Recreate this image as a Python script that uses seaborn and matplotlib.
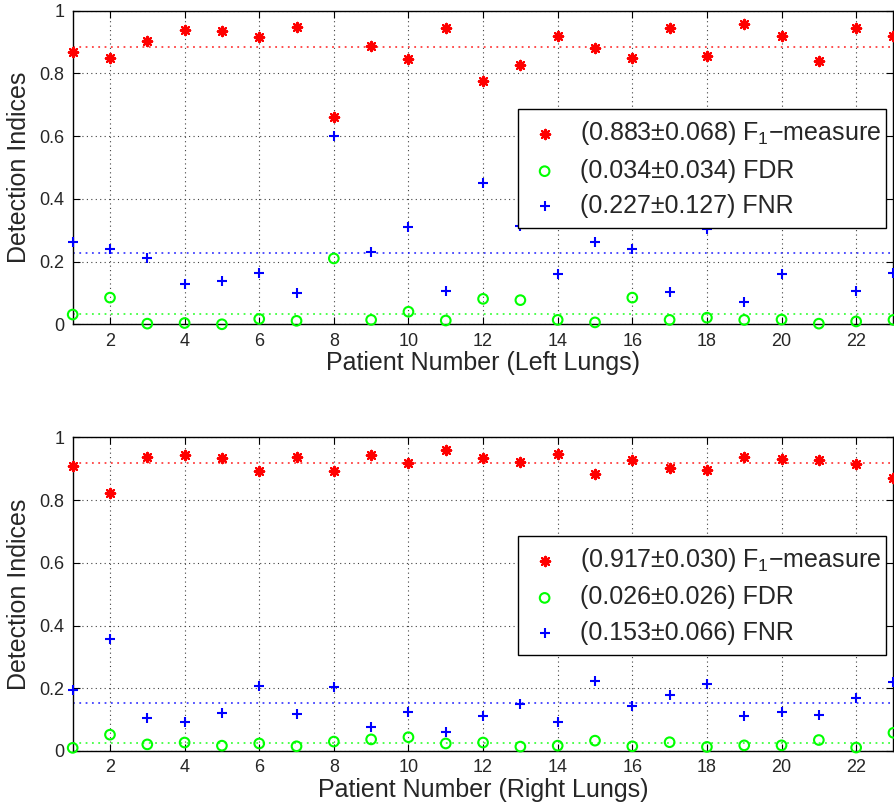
import matplotlib
matplotlib.use("Agg")
import matplotlib.pyplot as plt
import numpy as np
import seaborn as sns

# values
patients = list(range(1, 24))

left_f1 = [0.869, 0.848, 0.903, 0.938, 0.935, 0.916, 0.947, 0.662, 0.889, 0.845, 0.944, 0.777,
           0.827, 0.919, 0.882, 0.849, 0.945, 0.857, 0.959, 0.920, 0.841, 0.946, 0.919]
left_fdr = [0.031, 0.085, 0.002, 0.004, 0.000, 0.017, 0.011, 0.210, 0.014, 0.040, 0.012, 0.081,
            0.077, 0.014, 0.006, 0.085, 0.014, 0.021, 0.014, 0.015, 0.002, 0.009, 0.014]
left_fnr = [0.261, 0.241, 0.212, 0.129, 0.138, 0.162, 0.099, 0.600, 0.232, 0.311, 0.105, 0.449,
            0.313, 0.161, 0.261, 0.241, 0.102, 0.303, 0.071, 0.159, 0.400, 0.105, 0.164]

right_f1 = [0.908, 0.823, 0.939, 0.943, 0.934, 0.893, 0.937, 0.893, 0.945, 0.919, 0.959, 0.934,
            0.923, 0.948, 0.882, 0.927, 0.904, 0.897, 0.938, 0.932, 0.928, 0.916, 0.871]
right_fdr = [0.010, 0.052, 0.021, 0.027, 0.017, 0.024, 0.015, 0.030, 0.037, 0.044, 0.024, 0.027,
             0.014, 0.017, 0.033, 0.015, 0.028, 0.013, 0.018, 0.018, 0.035, 0.011, 0.058]
right_fnr = [0.194, 0.356, 0.105, 0.092, 0.120, 0.208, 0.118, 0.204, 0.078, 0.125, 0.062, 0.111,
             0.149, 0.091, 0.223, 0.142, 0.177, 0.213, 0.112, 0.124, 0.114, 0.170, 0.220]

# (mean, std) as printed in the legends
left_stats = {"f1": (0.883, 0.068), "fdr": (0.034, 0.034), "fnr": (0.227, 0.127)}
right_stats = {"f1": (0.917, 0.030), "fdr": (0.026, 0.026), "fnr": (0.153, 0.066)}

panels = [
    ("Patient Number (Left Lungs)", left_f1, left_fdr, left_fnr, left_stats),
    ("Patient Number (Right Lungs)", right_f1, right_fdr, right_fnr, right_stats),
]

sns.set_theme(style="ticks", rc={
    "axes.grid": True,
    "grid.linestyle": (0, (1, 3)),
    "grid.color": "#404040",
    "grid.linewidth": 0.8,
    "xtick.direction": "in",
    "ytick.direction": "in",
    "xtick.top": True,
    "ytick.right": True,
    "axes.edgecolor": "black",
    "axes.linewidth": 1.0,
})
plt.rcParams["font.family"] = ["Liberation Sans", "DejaVu Sans"]
plt.rcParams["mathtext.default"] = "regular"

RED = (1, 0, 0)
GREEN = (0, 1, 0)
BLUE = (0, 0, 1)

fig, axes = plt.subplots(2, 1, figsize=(8.94, 8.07), dpi=100)
fig.subplots_adjust(left=0.0813, right=0.9994, top=0.9867, bottom=0.0694, hspace=0.361)

for ax, (xlabel, f1, fdr, fnr, stats) in zip(axes, panels):
    mean_style = dict(linestyle=(0, (1, 2.5)), linewidth=1.3, alpha=0.75, zorder=1)
    ax.axhline(stats["f1"][0], color=RED, **mean_style)
    ax.axhline(stats["fdr"][0], color=GREEN, **mean_style)
    ax.axhline(stats["fnr"][0], color=BLUE, **mean_style)

    sns.scatterplot(x=patients, y=f1, ax=ax, marker=(8, 2, 0), s=45, color=RED,
                    edgecolor=RED, linewidth=1.6, clip_on=False, zorder=3,
                    label=r"(%.3f±%.3f) F$_{1}$−measure" % stats["f1"])
    sns.scatterplot(x=patients, y=fdr, ax=ax, marker="o", s=48, facecolor="none",
                    edgecolor=GREEN, linewidth=1.5, clip_on=False, zorder=3,
                    label="(%.3f±%.3f) FDR" % stats["fdr"])
    sns.scatterplot(x=patients, y=fnr, ax=ax, marker="+", s=60, color=BLUE,
                    edgecolor=BLUE, linewidth=1.5, clip_on=False, zorder=3,
                    label="(%.3f±%.3f) FNR" % stats["fnr"])

    ax.set_xlim(1, 23)
    ax.set_ylim(0, 1)
    ax.set_xticks(range(2, 23, 2))
    ax.set_yticks([0, 0.2, 0.4, 0.6, 0.8, 1])
    ax.set_yticklabels(["0", "0.2", "0.4", "0.6", "0.8", "1"])
    ax.tick_params(labelsize=13, length=5, width=0.8, color="black", pad=6)
    ax.set_xlabel(xlabel, fontsize=18, labelpad=1)
    ax.set_ylabel("Detection Indices", fontsize=18, labelpad=6)
    ax.set_axisbelow(True)
    for spine in ax.spines.values():
        spine.set_visible(True)

    leg = ax.legend(loc="upper left", bbox_to_anchor=(0.543, 0.313, 0.448, 0.372),
                    mode="expand", fontsize=18, frameon=True, fancybox=False,
                    framealpha=1, edgecolor="black", borderpad=0.4,
                    handlelength=1.3, handletextpad=0.75, labelspacing=0.45,
                    borderaxespad=0)
    leg.get_frame().set_linewidth(1.0)

fig.savefig("out.png", dpi=100)
